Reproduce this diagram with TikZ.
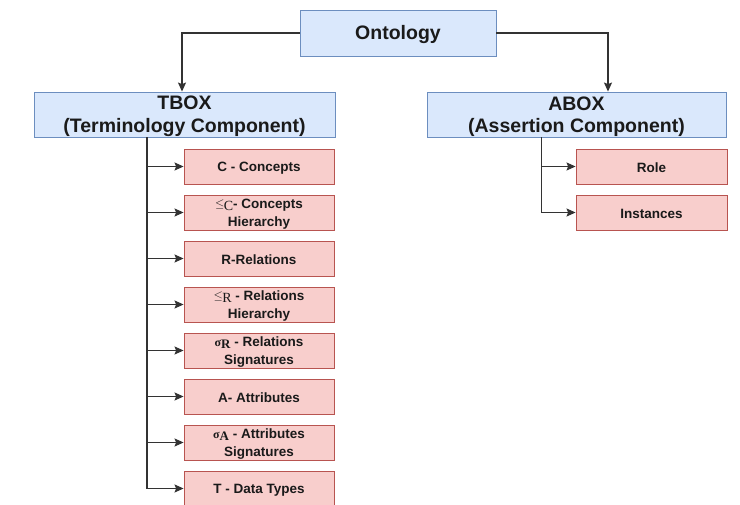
\documentclass[tikz,border=0pt]{standalone}
\usepackage{fontspec}
\setmainfont{Liberation Sans}
\newfontfamily\seriffam{Liberation Serif}
\usetikzlibrary{arrows.meta}
\definecolor{bluefill}{HTML}{DAE8FC}
\definecolor{blueline}{HTML}{6C8EBF}
\definecolor{redfill}{HTML}{F8CECC}
\definecolor{redline}{HTML}{B85450}
\definecolor{linec}{HTML}{333333}
\definecolor{textc}{HTML}{1A1A1A}
\newcommand{\lesym}[1]{\raisebox{1pt}{\fontsize{13}{13}\selectfont$\leq$}\kern-0.5pt\raisebox{-2pt}{\seriffam\mdseries\fontsize{14}{14}\selectfont #1}}
\newcommand{\sigsym}[1]{{\seriffam\bfseries\fontsize{12}{12}\selectfont σ}\raisebox{-2pt}{\seriffam\bfseries\fontsize{13}{13}\selectfont #1}}
\tikzset{
  blueb/.style={draw=blueline, fill=bluefill, line width=0.9pt, inner sep=0pt},
  bluet/.style={inner sep=0pt, yshift=-2pt, font=\fontsize{19.5}{22.5}\selectfont\bfseries,
    align=center, text=textc},
  redb/.style={draw=redline, fill=redfill, line width=0.9pt, minimum width=150pt,
    minimum height=35pt, inner sep=0pt},
  redt/.style={inner sep=0pt, yshift=-1.5pt, font=\fontsize{13.5}{18.5}\selectfont\bfseries,
    align=center, text=textc},
  conn/.style={draw=linec, line width=1.2pt},
  arr/.style={conn, -{Stealth[length=9pt,width=8pt,inset=1.5pt]}}
}
\begin{document}
\begin{tikzpicture}[x=1pt,y=-1pt]
\useasboundingbox (0,0) rectangle (740,505);
\clip (0,0) rectangle (740,505);
\fill[white] (0,0) rectangle (740,505);
\node[blueb, minimum width=196pt, minimum height=46pt, label={[bluet]center:Ontology}] (ont) at (398,33) {};
\node[blueb, minimum width=301pt, minimum height=45pt, label={[bluet]center:{TBOX\\(Terminology Component)}}] (tbox) at (184.5,114.5) {};
\node[blueb, minimum width=299pt, minimum height=45pt, label={[bluet]center:{ABOX\\(Assertion Component)}}] (abox) at (576.5,114.5) {};

\node[redb, label={[redt]center:{C - Concepts}}] (c1) at (259,166.5) {};
\node[redb, label={[redt]center:{\lesym{C}- Concepts\\Hierarchy}}] (c2) at (259,212.5) {};
\node[redb, label={[redt]center:{R-Relations}}] (c3) at (259,258.5) {};
\node[redb, label={[redt]center:{\lesym{R} - Relations\\Hierarchy}}] (c4) at (259,304.5) {};
\node[redb, label={[redt]center:{\sigsym{R} - Relations\\Signatures}}] (c5) at (259,350.5) {};
\node[redb, label={[redt]center:{A- Attributes}}] (c6) at (259,396.5) {};
\node[redb, label={[redt]center:{\sigsym{A} - Attributes\\Signatures}}] (c7) at (259,442.5) {};
\node[redb, label={[redt]center:{T - Data Types}}] (c8) at (259,488.5) {};

\node[redb, minimum width=151pt, label={[redt]center:{Role}}] (a1) at (651.5,166.5) {};
\node[redb, minimum width=151pt, label={[redt]center:{Instances}}] (a2) at (651.5,212.5) {};

\draw[arr] (ont.west) -| ([xshift=-2.5pt]tbox.north);
\draw[arr] (ont.east) -| ([xshift=31.5pt]abox.north);

\coordinate (tt) at ([xshift=-37.5pt]tbox.south);
\draw[arr] (tt) |- (c8.west);
\foreach \n in {c1,c2,c3,c4,c5,c6,c7}{
  \draw[arr] (tt |- \n.west) -- (\n.west);
}
\coordinate (at) at ([xshift=-35pt]abox.south);
\draw[arr] (at) |- (a2.west);
\draw[arr] (at |- a1.west) -- (a1.west);
\end{tikzpicture}
\end{document}
